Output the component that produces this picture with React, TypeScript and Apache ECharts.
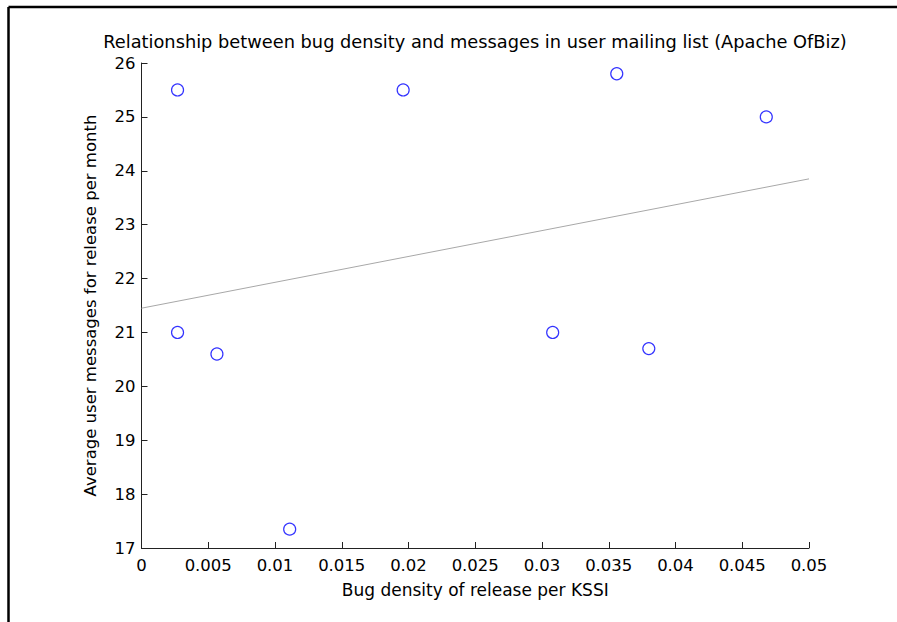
import React, { useEffect, useRef } from "react";
import * as echarts from "echarts";

const bugDensity = [0.0027, 0.0027, 0.00565, 0.0111, 0.0196, 0.0308, 0.0356, 0.038, 0.0468];
const userMessages = [25.5, 21.0, 20.6, 17.35, 25.5, 21.0, 25.8, 20.7, 25.0];
const fitX = [0, 0.05];
const fitY = [21.45, 23.85];

const titleText = "Relationship between bug density and messages in user mailing list (Apache OfBiz)";
const xName = "Bug density of release per KSSI";
const yName = "Average user messages for release per month";

const FONT = "DejaVu Sans";

export default function App() {
  const ref = useRef<HTMLDivElement>(null);
  useEffect(() => {
    if (!ref.current) return;
    const chart = echarts.init(ref.current, undefined, { renderer: "svg" });
    const axisText = { color: "#000", fontFamily: FONT, fontSize: 16.5 };
    chart.setOption({
      animation: false,
      backgroundColor: "#fff",
      title: {
        text: titleText,
        left: 475,
        textAlign: "center",
        top: 32,
        padding: 0,
        textStyle: { ...axisText, fontWeight: "normal", fontSize: 17.8 },
      },
      grid: { left: 141.5, right: 88, top: 63, bottom: 74, containLabel: false },
      xAxis: {
        type: "value",
        min: 0,
        max: 0.05,
        interval: 0.005,
        name: xName,
        nameLocation: "middle",
        nameGap: 33,
        nameTextStyle: { ...axisText, fontSize: 17 },
        axisLine: { lineStyle: { color: "#222", width: 1 } },
        axisTick: { inside: true, length: 6, lineStyle: { color: "#222" } },
        axisLabel: {
          ...axisText,
          margin: 9,
          formatter: (v: number) => String(parseFloat(v.toFixed(3))),
        },
        splitLine: { show: false },
      },
      yAxis: {
        type: "value",
        min: 17,
        max: 26,
        interval: 1,
        name: yName,
        nameLocation: "middle",
        nameGap: 43,
        nameTextStyle: axisText,
        axisLine: { show: true, lineStyle: { color: "#222", width: 1 } },
        axisTick: { show: true, inside: true, length: 6, lineStyle: { color: "#222" } },
        axisLabel: { ...axisText, margin: 6 },
        splitLine: { show: false },
      },
      graphic: [
        { type: "line", shape: { x1: 8.5, y1: 7, x2: 897, y2: 7 }, style: { stroke: "#000", lineWidth: 2.5 } },
        { type: "line", shape: { x1: 8.5, y1: 7, x2: 8.5, y2: 622 }, style: { stroke: "#000", lineWidth: 2.5 } },
      ],
      series: [
        {
          type: "line",
          data: fitX.map((x, i) => [x, fitY[i]]),
          showSymbol: false,
          symbol: "none",
          lineStyle: { color: "#a8a8a8", width: 1 },
          silent: true,
        },
        {
          type: "scatter",
          data: bugDensity.map((x, i) => [x, userMessages[i]]),
          symbol: "circle",
          symbolSize: 12,
          itemStyle: { color: "transparent", borderColor: "#0000ff", borderWidth: 1.2 },
        },
      ],
    });
    return () => chart.dispose();
  }, []);
  return (
    <div
      ref={ref}
      style={{ position: "absolute", left: 0, top: 0, width: 897, height: 622 }}
    />
  );
}
